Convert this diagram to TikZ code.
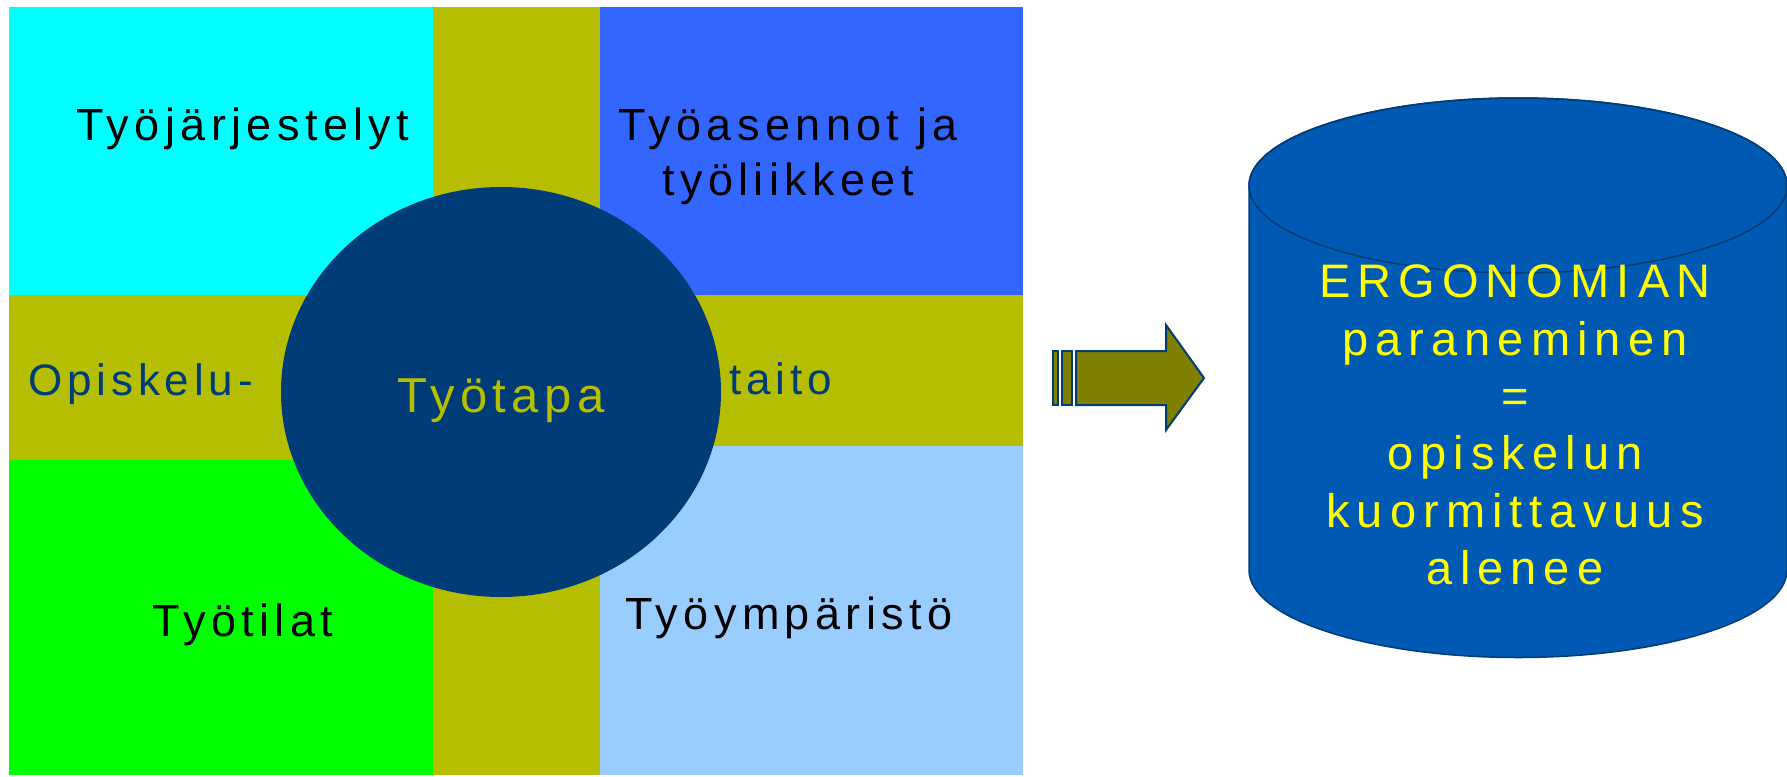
\documentclass[tikz,border=0pt]{standalone}
\usepackage{fontspec}
\setmainfont{Liberation Sans}
\newfontfamily\lblfont[LetterSpace=12]{Liberation Sans}
\newfontfamily\bandfont[LetterSpace=11]{Liberation Sans}
\newfontfamily\cylfont[LetterSpace=15]{Liberation Sans}
\usetikzlibrary{shapes.geometric}
\definecolor{cyanA}{HTML}{00FFFF}
\definecolor{oliveA}{HTML}{B5BE00}
\definecolor{blueA}{HTML}{3366FF}
\definecolor{greenA}{HTML}{00FF00}
\definecolor{lblueA}{HTML}{99CCFF}
\definecolor{navyA}{HTML}{003C78}
\definecolor{arrowA}{HTML}{808000}
\definecolor{cylA}{HTML}{005AB4}
\definecolor{yellowA}{HTML}{FFFF00}
\tikzset{
  lbl/.style={font={\lblfont\fontsize{45}{55}\selectfont}, inner sep=0pt, anchor=base, text=black},
  bandlbl/.style={font={\bandfont\fontsize{44}{55}\selectfont}, inner sep=0pt, anchor=base west, text=navyA},
  arrowpart/.style={fill=arrowA, draw=navyA, line width=2pt, line join=miter},
  cylpart/.style={fill=cylA, draw=navyA, line width=1.5pt}
}
\begin{document}
\begin{tikzpicture}[x=1pt,y=-1pt]
\useasboundingbox (0,0) rectangle (1787,776);
\fill[white] (0,0) rectangle (1787,776);
% quadrants
\fill[oliveA] (9,7) rectangle (1023,775);
\fill[cyanA] (9,7) rectangle (433,295);
\fill[blueA] (600,7) rectangle (1023,295);
\fill[greenA] (9,460) rectangle (433,775);
\fill[lblueA] (600,446) rectangle (1023,775);
% labels
\node[lbl] (jarj) at (243,140) {Työjärjestelyt};
\node[lbl, align=center, anchor=center] (asennot) at (788,156) {Työasennot ja\\työliikkeet};
\node[lbl] (tilat) at (243,636) {Työtilat};
\node[lbl] (ymp) at (789,629) {Työympäristö};
\node[bandlbl] (opis) at (28,395) {Opiskelu-};
\node[bandlbl] (taito) at (729,394) {taito};
% central ellipse
\node[ellipse, fill=navyA, minimum width=440pt, minimum height=410pt, inner sep=0pt] (hub) at (501,392) {};
\node[font={\bandfont\fontsize{49}{55}\selectfont}, text=oliveA, inner sep=0pt, anchor=base] (tapa) at (501,412) {Työtapa};
% arrow
\path[arrowpart] (1053,351) rectangle (1058,405);
\path[arrowpart] (1062,351) rectangle (1072,405);
\path[arrowpart] (1076,351) -- (1166,351) -- (1166,325) -- (1204,378) -- (1166,430) -- (1166,405) -- (1076,405) -- cycle;
% cylinder
\path[cylpart] (1249,185.5) -- (1249,570) arc[start angle=180,end angle=0,x radius=269,y radius=87.5] -- (1787,185.5) arc[start angle=0,end angle=-180,x radius=269,y radius=87.5] -- cycle;
\draw[navyA, line width=1.5pt] (1518,185.5) ellipse [x radius=269, y radius=87.5];
\node[font={\cylfont\fontsize{47}{57.4}\selectfont}, text=yellowA, align=center, inner sep=0pt] (goal) at (1515,425) {ERGONOMI\kern9pt AN\\paraneminen\\=\\opiskelun\\kuormittavuus\\alenee};
\end{tikzpicture}
\end{document}
